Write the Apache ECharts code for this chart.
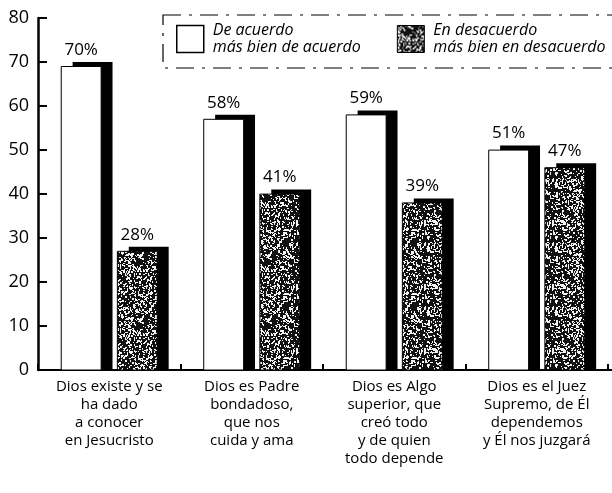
<!DOCTYPE html>
<html>
<head>
<meta charset="utf-8">
<script src="https://cdn.jsdelivr.net/npm/echarts@6/dist/echarts.min.js"></script>
<style>
  html, body { margin: 0; padding: 0; background: #fff; }
  #chart { width: 612px; height: 493px; }
</style>
</head>
<body>
<div id="chart"></div>
<script>
// Survey answers about the image of God, in percent
const categories = [
  'Dios existe y se\nha dado\na conocer\nen Jesucristo',
  'Dios es Padre\nbondadoso,\nque nos\ncuida y ama',
  'Dios es Algo\nsuperior, que\ncreó todo\ny de quien\ntodo depende',
  'Dios es el Juez\nSupremo, de Él\ndependemos\ny Él nos juzgará'
];
const deAcuerdo = [70, 58, 59, 51];
const enDesacuerdo = [28, 41, 39, 47];
const seriesNames = ['De acuerdo\nmás bien de acuerdo', 'En desacuerdo\nmás bien en desacuerdo'];

const FONT = '"Open Sans", "Liberation Sans", sans-serif';

// Speckled fill for the "disagree" bars (deterministic noise tile, slightly clumpy)
function makeSpeckle() {
  const size = 64;
  const c = document.createElement('canvas');
  c.width = size; c.height = size;
  const ctx = c.getContext('2d');
  ctx.fillStyle = '#111';
  ctx.fillRect(0, 0, size, size);
  let s = 24680;
  const next = () => { s = (s * 1103515245 + 12345) & 0x7fffffff; return s / 0x7fffffff; };
  ctx.fillStyle = '#f2f2f2';
  for (let i = 0; i < 900; i++) {
    const x = Math.floor(next() * size);
    const y = Math.floor(next() * size);
    const w = next() < 0.35 ? 2 : 1;
    const h = next() < 0.35 ? 2 : 1;
    ctx.fillRect(x, y, w, h);
  }
  return c;
}
const speckle = { image: makeSpeckle(), repeat: 'repeat' };

// Bar with a solid black block behind it, offset up-right
function barRenderer(side, faceFill) {
  return function (params, api) {
    const cat = api.value(0);
    const val = api.value(1);
    const top = api.coord([cat, val]);
    const base = api.coord([cat, 0]);
    const band = api.size([1, 0])[0];
    const w = band * 0.28;
    const cx = top[0] + side * band * 0.197;
    const x = cx - w / 2;
    const dx = band * 0.08;
    const dy = 4.5;
    return {
      type: 'group',
      children: [
        { type: 'rect', shape: { x: x + dx, y: top[1], width: w, height: base[1] - top[1] },
          style: { fill: '#000' } },
        { type: 'rect', shape: { x: x, y: top[1] + dy, width: w, height: base[1] - top[1] - dy },
          style: { fill: faceFill, stroke: '#000', lineWidth: 1 } },
        { type: 'text', x: cx, y: top[1] - 12,
          style: { text: val + '%', fill: '#000', fontSize: 17, fontFamily: FONT,
                   align: 'center', verticalAlign: 'middle' } }
      ]
    };
  };
}

const chart = echarts.init(document.getElementById('chart'), null, { renderer: 'canvas' });

chart.setOption({
  backgroundColor: '#fff',
  animation: false,
  grid: { left: 38, right: 4, top: 18, bottom: 123 },
  legend: {
    left: 176, top: 22, padding: 0,
    itemWidth: 27, itemHeight: 27, itemGap: 36,
    orient: 'horizontal',
    selectedMode: false,
    textStyle: { fontFamily: FONT, fontStyle: 'italic', fontSize: 16, lineHeight: 17, color: '#000', padding: [0, 0, 0, 4] },
    data: [
      { name: seriesNames[0], icon: 'rect', itemStyle: { color: '#fff', borderColor: '#000', borderWidth: 1.5 } },
      { name: seriesNames[1], icon: 'rect', itemStyle: { color: speckle, borderColor: '#000', borderWidth: 1 } }
    ]
  },
  graphic: [
    { type: 'rect', z: -1, shape: { x: 163, y: 15, width: 470, height: 53 },
      style: { fill: 'none', stroke: '#000', lineWidth: 1.2, lineDash: [18, 8, 3, 8] } },
    // x axis baseline runs on to the right edge
    { type: 'line', shape: { x1: 600, y1: 370, x2: 612, y2: 370 },
      style: { stroke: '#000', lineWidth: 2 } }
  ],
  xAxis: {
    type: 'category',
    data: categories,
    axisLine: { lineStyle: { color: '#000', width: 2 } },
    axisTick: { show: true, inside: true, length: 6, interval: 0, alignWithLabel: false,
                lineStyle: { color: '#000', width: 2 } },
    axisLabel: { interval: 0, color: '#000', fontFamily: FONT, fontSize: 15, lineHeight: 18, margin: 8 },
    splitLine: { show: false }
  },
  yAxis: {
    type: 'value',
    min: 0, max: 80, interval: 10,
    axisLine: { show: true, lineStyle: { color: '#000', width: 2.5 } },
    axisTick: { show: true, inside: true, length: 9, lineStyle: { color: '#000', width: 2 } },
    axisLabel: { color: '#000', fontFamily: FONT, fontSize: 18, margin: 9 },
    splitLine: { show: false }
  },
  series: [
    {
      name: seriesNames[0],
      type: 'custom',
      renderItem: barRenderer(-1, '#fff'),
      itemStyle: { color: '#fff', borderColor: '#000' },
      encode: { x: 0, y: 1 },
      data: deAcuerdo.map((v, i) => [i, v])
    },
    {
      name: seriesNames[1],
      type: 'custom',
      renderItem: barRenderer(1, speckle),
      itemStyle: { color: speckle, borderColor: '#000' },
      encode: { x: 0, y: 1 },
      data: enDesacuerdo.map((v, i) => [i, v])
    }
  ]
});
</script>
</body>
</html>
